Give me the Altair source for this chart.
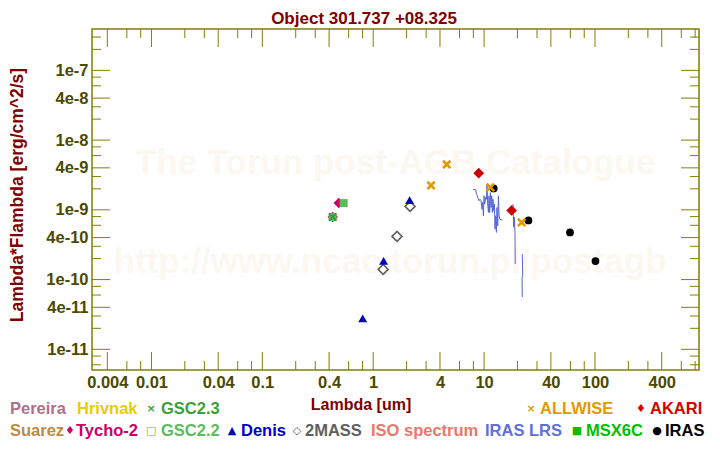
import altair as alt
import pandas as pd

# ---------------- data ----------------
allwise_lam = [3.32, 4.6, 11.4, 21.8]
allwise_flux = [2.24e-9, 4.47e-9, 2.10e-9, 6.6e-10]
akari_lam = [8.94, 17.7]
akari_flux = [3.36e-9, 9.8e-10]
iras_lam = [12.2, 25.1, 59.5, 101]
iras_flux = [2.03e-9, 7.05e-10, 4.74e-10, 1.84e-10]
denis_lam = [2.13, 1.24, 0.804]
denis_flux = [1.38e-9, 1.86e-10, 2.78e-11]
tmass_lam = [2.15, 1.64, 1.23]
tmass_flux = [1.12e-9, 4.16e-10, 1.40e-10]
tycho_lam = [0.489, 0.431]
tycho_flux = [1.25e-9, 7.9e-10]
gsc22_lam = [0.542, 0.431]
gsc22_flux = [1.25e-9, 7.9e-10]
gsc23_lam = [0.431]
gsc23_flux = [7.9e-10]

lrs1_lam = [7.94, 8.40, 8.53, 8.71, 8.81, 8.99, 9.18, 9.38, 9.57, 9.71, 9.86, 9.98,
            10.12, 10.34, 10.49, 10.62, 10.77, 10.94, 11.07, 11.23, 11.40, 11.54, 11.72,
            11.88, 12.03, 12.22, 12.39, 12.54, 12.73, 12.91, 13.06, 13.27, 13.46, 13.62,
            13.83, 14.20, 14.62]
lrs1_flux = [1.96e-9, 1.94e-9, 1.68e-9, 1.59e-9, 1.46e-9, 1.35e-9, 1.42e-9, 1.35e-9,
             1.02e-9, 1.28e-9, 8.2e-10, 1.59e-9, 1.21e-9, 1.51e-9, 1.42e-9, 2.33e-9,
             1.21e-9, 9.18e-10, 1.59e-9, 9.18e-10, 1.77e-9, 1.08e-9, 1.59e-9, 9.18e-10,
             1.42e-9, 9.68e-10, 1.21e-9, 5.29e-10, 8.2e-10, 4.74e-10, 1.08e-9, 5.9e-10,
             1.59e-9, 8.67e-10, 7.36e-10, 7.19e-10, 7.19e-10]
lrs2_lam = [18.2, 18.5, 18.7, 19.0, 19.1]
lrs2_flux = [1.21e-9, 5.65e-10, 7.86e-10, 4.49e-10, 1.67e-10]
lrs3_lam = [22.1, 22.3, 22.0, 22.1]
lrs3_flux = [2.32e-10, 1.12e-10, 1.09e-10, 5.61e-11]

x_major = [0.004, 0.01, 0.04, 0.1, 0.4, 1, 4, 10, 40, 100, 400]
x_minor = [0.006, 0.008, 0.02, 0.03, 0.06, 0.08, 0.2, 0.3, 0.6, 0.8, 2, 3, 6, 8,
           20, 30, 60, 80, 200, 300, 600, 800]
y_major = [1e-11, 4e-11, 1e-10, 4e-10, 1e-9, 4e-9, 1e-8, 4e-8, 1e-7]
y_minor = [6e-12, 8e-12, 2e-11, 3e-11, 6e-11, 8e-11, 2e-10, 3e-10, 6e-10, 8e-10,
           2e-9, 3e-9, 6e-9, 8e-9, 2e-8, 3e-8, 6e-8, 8e-8, 2e-7, 3e-7]

# ---------------- styling ----------------
W, H = 607, 341
FONT = "Liberation Sans"
OLIVE = "#808000"
LABC = "#4a4a00"
DARKRED = "#800000"
XSHAPE = "M-1,-1L1,1M-1,1L1,-1"

xscale = alt.Scale(type="log", domain=[0.00291, 867], nice=False)
yscale = alt.Scale(type="log", domain=[5.05e-12, 3.92e-7], nice=False)
xaxis = alt.Axis(values=x_major, labelExpr="format(datum.value, '~g')", ticks=False,
                 tickSize=0, domain=False, grid=False, title=None, labelFont=FONT,
                 labelFontSize=16.5, labelFontWeight="bold", labelColor=LABC,
                 labelPadding=4, labelOverlap=False, labelFlush=False)
yaxis = alt.Axis(values=y_major, labelExpr="format(datum.value, '.0e')", ticks=False,
                 tickSize=0, domain=False, grid=False, title=None, labelFont=FONT,
                 labelFontSize=16.5, labelFontWeight="bold", labelColor=LABC,
                 labelPadding=4, labelOverlap=False, labelFlush=False)
X = alt.X("lam:Q", scale=xscale, axis=xaxis)
Y = alt.Y("flux:Q", scale=yscale, axis=yaxis)


def pts(lam, flux, shape, size, color, filled=True, sw=1.0):
    df = pd.DataFrame({"lam": lam, "flux": flux})
    return alt.Chart(df).mark_point(shape=shape, size=size, filled=filled, color=color,
                                    strokeWidth=sw, opacity=1).encode(x=X, y=Y)


def txt(s, x, y, color, size=16, align="left", angle=0, weight="bold", font=FONT):
    return alt.Chart(pd.DataFrame({"t": [s]})).mark_text(
        align=align, baseline="middle", font=font, fontSize=size, fontWeight=weight,
        color=color, angle=angle).encode(text="t:N", x=alt.value(x), y=alt.value(y))


def xticks(vals, length, top):
    df = pd.DataFrame({"lam": vals})
    if top:
        enc = dict(y=alt.value(0), y2=alt.value(length))
    else:
        enc = dict(y=alt.value(H), y2=alt.value(H - length))
    return alt.Chart(df).mark_rule(color=OLIVE, strokeWidth=1).encode(x=X, **enc)


def yticks(vals, length, right):
    df = pd.DataFrame({"flux": vals})
    if right:
        enc = dict(x=alt.value(W), x2=alt.value(W - length))
    else:
        enc = dict(x=alt.value(0), x2=alt.value(length))
    return alt.Chart(df).mark_rule(color=OLIVE, strokeWidth=1).encode(y=Y, **enc)


layers = []
# watermark
WM = "#fbf8f2"
layers.append(txt("The Torun post-AGB Catalogue", 303, 134, WM, size=35, align="center"))
layers.append(txt("http://www.ncac.torun.pl/postagb", 298, 233, WM, size=35, align="center"))

# IRAS LRS spectrum
lrs_rows = []
for seg, (ls, fs) in enumerate([(lrs1_lam, lrs1_flux), (lrs2_lam, lrs2_flux), (lrs3_lam, lrs3_flux)]):
    for i, (l, f) in enumerate(zip(ls, fs)):
        lrs_rows.append({"lam": l, "flux": f, "seg": seg, "ord": i})
lrs_df = pd.DataFrame(lrs_rows)
layers.append(alt.Chart(lrs_df).mark_line(color="#5566d6", strokeWidth=1, interpolate="linear")
              .encode(x=X, y=Y, detail="seg:N", order="ord:Q"))

# catalogue points
layers.append(pts(tycho_lam, tycho_flux, "diamond", 110, "#cc0066"))
layers.append(pts(gsc22_lam, gsc22_flux, "square", 64, "#5cbc5c"))
layers.append(pts(gsc23_lam, gsc23_flux, XSHAPE, 50, "#3c9c3c", filled=False, sw=2))
layers.append(pts(tmass_lam, tmass_flux, "diamond", 100, "#606060", filled=False, sw=1.6))
layers.append(pts(denis_lam, denis_flux, "triangle-up", 80, "#0000c0"))
layers.append(pts(iras_lam, iras_flux, "circle", 60, "#000000"))
layers.append(pts(allwise_lam, allwise_flux, XSHAPE, 55, "#e09a00", filled=False, sw=2.6))
layers.append(pts(akari_lam, akari_flux, "diamond", 115, "#d00000"))

# frame ticks (inward)
layers.append(xticks(x_major, 18, False))
layers.append(xticks(x_minor, 9, False))
layers.append(xticks(x_major, 18, True))
layers.append(xticks(x_minor, 9, True))
layers.append(yticks(y_major, 18, False))
layers.append(yticks(y_minor, 9, False))
layers.append(yticks(y_major, 18, True))
layers.append(yticks(y_minor, 9, True))

# titles
layers.append(txt("Object 301.737 +08.325", 272, -10, DARKRED, size=17, align="center"))
layers.append(txt("Lambda [um]", 269, 376, DARKRED, size=16, align="center"))
layers.append(txt("Lambda*Flambda [erg/cm^2/s]", -74, 166, DARKRED, size=17.5, align="center", angle=270))

# custom legend
R1, R2 = 380, 402
SYM = "DejaVu Sans"
legend_items = [
    ("Pereira", "#b0708c", -82, R1, None, None),
    ("Hrivnak", "#e8cc00", -15, R1, None, None),
    ("GSC2.3", "#3ca03c", 69, R1, "\u00d7", 59),
    ("ALLWISE", "#e09a00", 448, R1, "\u00d7", 439),
    ("AKARI", "#d80000", 558, R1, "\u2666", 549),
    ("Suarez", "#c08a40", -82, R2, None, None),
    ("Tycho-2", "#cc0066", -16, R2, "\u2666", -22),
    ("GSC2.2", "#5cbc5c", 69, R2, "\u25a1", 59),
    ("Denis", "#0000c0", 149, R2, "\u25b2", 140),
    ("2MASS", "#606060", 213, R2, "\u25c7", 205),
    ("ISO spectrum", "#e87868", 279, R2, None, None),
    ("IRAS LRS", "#6070d8", 393, R2, None, None),
    ("MSX6C", "#00c000", 494, R2, "\u25a0", 485),
    ("IRAS", "#000000", 573, R2, "\u25cf", 565),
]
for label, col, lx, ly, sym, sx in legend_items:
    layers.append(txt(label, lx, ly, col, size=16.5))
    if sym:
        layers.append(txt(sym, sx, ly, col, size=11, align="center", font=SYM))

chart = alt.layer(*layers).properties(
    width=W, height=H,
    autosize=alt.AutoSizeParams(type="none"),
    padding={"left": 84, "top": 21, "right": 13, "bottom": 78},
).configure_view(stroke=OLIVE, strokeWidth=1.5)

chart.save("out.html", embed_options={"renderer": "svg", "actions": False})
